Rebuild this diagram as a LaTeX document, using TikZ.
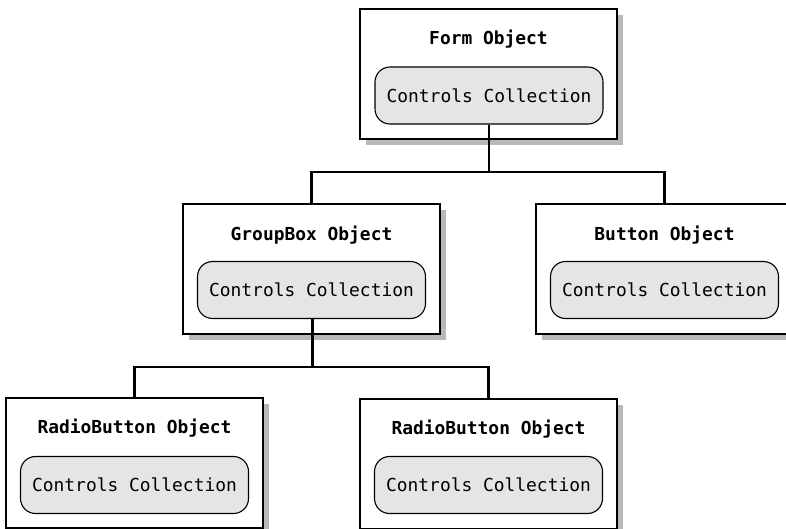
\documentclass[tikz,border=0pt]{standalone}
\usepackage{fontspec}
\setmonofont{DejaVu Sans Mono}
\usetikzlibrary{shadows}
\begin{document}
\begin{tikzpicture}[x=1pt,y=-1pt,
  objbox/.style={draw=black, line width=1.3pt, fill=white, minimum width=257pt, minimum height=130pt, inner sep=0pt,
    drop shadow={shadow xshift=6pt, shadow yshift=-6pt, fill=black!28, opacity=1}},
  coll/.style={draw=black, line width=1.1pt, fill=black!10, rounded corners=15pt, minimum width=228pt, minimum height=57pt, inner sep=0pt,
    font=\ttfamily\fontsize{17.9}{20}\selectfont},
  ttl/.style={font=\ttfamily\bfseries\fontsize{17.9}{20}\selectfont, inner sep=0pt},
  conn/.style={draw=black, line width=2.3pt}]
\useasboundingbox (0,0) rectangle (786,528);
\fill[white] (0,0) rectangle (786,528);
% boxes
\node[objbox] (form) at (488.5,74) {};
\node[objbox] (gb) at (311.5,269) {};
\node[objbox] (bt) at (664.5,269) {};
\node[objbox] (rl) at (134.5,463) {};
\node[objbox] (rr) at (488.5,464) {};
% titles
\node[ttl] (formt) at (488.5,39) {Form Object};
\node[ttl] (gbt) at (311.5,235) {GroupBox Object};
\node[ttl] (btt) at (664.5,235) {Button Object};
\node[ttl] (rlt) at (134.5,428) {RadioButton Object};
\node[ttl] (rrt) at (488.5,429) {RadioButton Object};
% collections
\node[coll] (formc) at (489,95.5) {Controls Collection};
\node[coll] (gbc) at (311.5,290) {Controls Collection};
\node[coll] (btc) at (664.5,290) {Controls Collection};
\node[coll] (rlc) at (134.5,485) {Controls Collection};
\node[coll] (rrc) at (488.5,485) {Controls Collection};
% connectors
\coordinate (j1) at (489,172);
\coordinate (j2) at (312.5,367);
\draw[conn] (formc.south) -- (j1);
\draw[conn] (gb.north) |- (j1) -| (bt.north);
\draw[conn] (gbc.south -| j2) -- (j2);
\draw[conn] (rl.north) |- (j2) -| (rr.north);
\end{tikzpicture}
\end{document}
